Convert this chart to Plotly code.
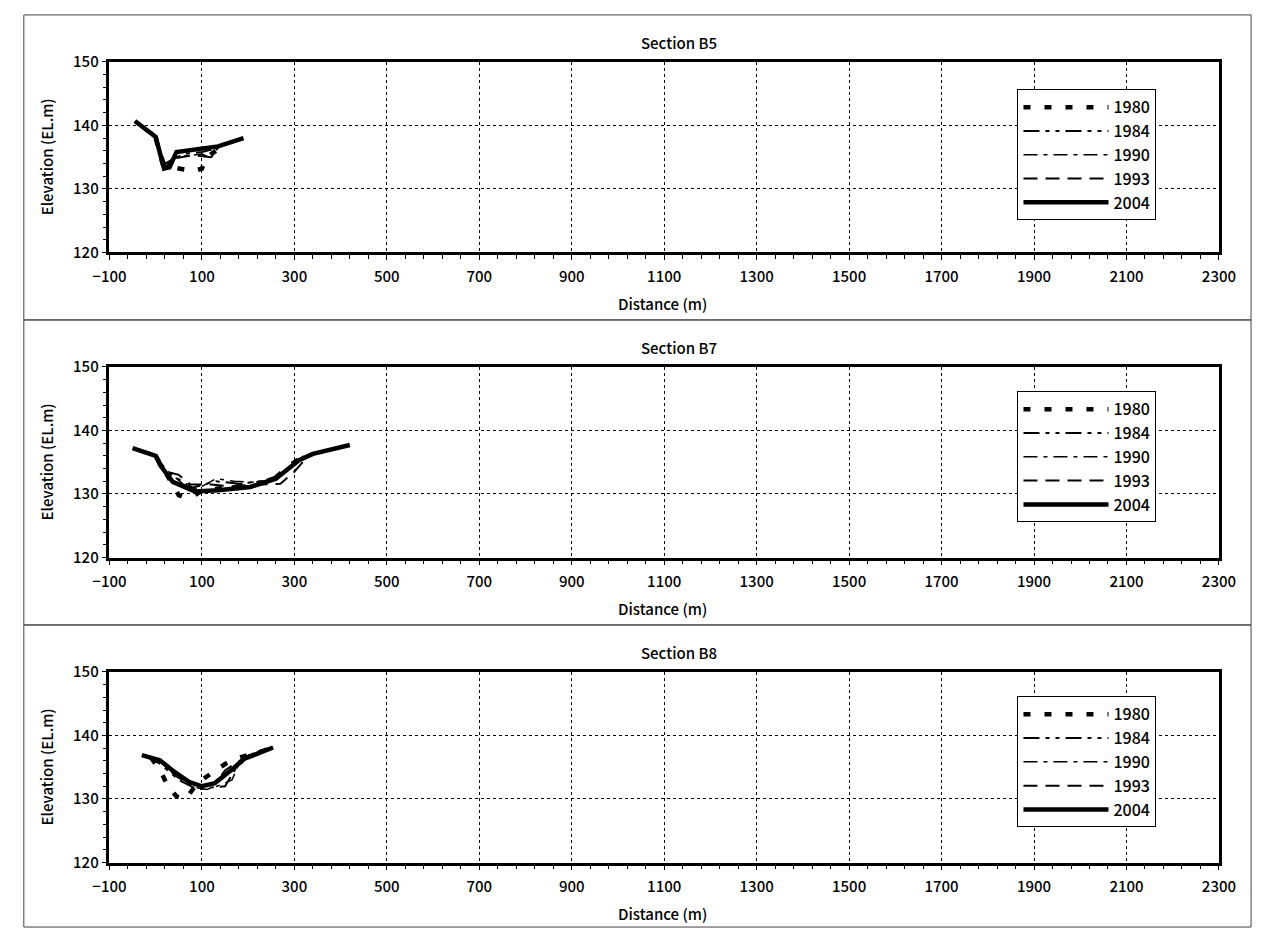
import plotly.graph_objects as go

# ---------------- data ----------------
years = ["1980", "1984", "1990", "1993", "2004"]
sections = ["Section B5", "Section B7", "Section B8"]

# Section B5
b5_1980_x = [0, 15, 30, 60, 80, 100, 110, 130]
b5_1980_y = [138.0, 134.0, 133.5, 133.0, 132.8, 133.2, 135.0, 136.0]
b5_1984_x = [-40, 0, 20, 35, 60, 100, 130]
b5_1984_y = [140.3, 138.0, 134.0, 134.5, 135.5, 135.8, 136.4]
b5_1990_x = [0, 20, 40, 70, 100, 120, 130]
b5_1990_y = [138.0, 133.8, 135.0, 135.2, 135.5, 134.8, 136.2]
b5_1993_x = [0, 22, 40, 80, 120, 135]
b5_1993_y = [138.0, 133.5, 134.8, 135.3, 135.0, 136.5]
b5_2004_x = [-45, 0, 18, 30, 45, 135, 190]
b5_2004_y = [140.7, 138.2, 133.2, 133.4, 135.8, 136.7, 138.0]

# Section B7
b7_1980_x = [0, 20, 50, 60, 80, 100, 150, 200, 250, 290, 320]
b7_1980_y = [136.0, 133.5, 129.8, 129.5, 129.6, 130.5, 131.0, 131.5, 132.0, 134.5, 136.0]
b7_1984_x = [0, 15, 45, 80, 130, 180, 230, 270, 310]
b7_1984_y = [136.0, 134.0, 132.5, 131.0, 132.0, 131.6, 132.0, 133.0, 135.5]
b7_1990_x = [0, 20, 60, 90, 130, 170, 220, 260, 300, 320]
b7_1990_y = [136.0, 134.0, 131.5, 130.8, 132.4, 132.0, 131.8, 132.5, 134.8, 136.0]
b7_1993_x = [0, 25, 50, 75, 120, 160, 200, 240, 270, 300, 330]
b7_1993_y = [136.0, 133.5, 133.0, 131.5, 131.5, 131.2, 131.4, 131.5, 131.6, 133.5, 136.0]
b7_2004_x = [-50, 0, 10, 37, 85, 135, 205, 260, 310, 340, 420]
b7_2004_y = [137.2, 136.0, 134.5, 131.9, 130.4, 130.6, 131.1, 132.4, 135.3, 136.3, 137.7]

# Section B8
b8_1980_x = [-10, 10, 25, 45, 65, 90, 120, 150, 180, 220]
b8_1980_y = [136.5, 134.5, 132.2, 130.4, 130.0, 132.5, 134.0, 135.5, 136.5, 137.3]
b8_1984_x = [-20, 10, 50, 90, 120, 150, 175, 200, 240]
b8_1984_y = [136.8, 135.5, 133.0, 131.5, 131.8, 132.0, 135.0, 136.5, 138.0]
b8_1990_x = [-20, 10, 45, 85, 110, 140, 165, 180, 190, 230]
b8_1990_y = [136.8, 135.8, 133.5, 131.8, 131.5, 132.2, 133.0, 135.5, 136.5, 137.8]
b8_1993_x = [-20, 15, 50, 90, 130, 150, 170, 200, 240]
b8_1993_y = [136.8, 135.5, 133.5, 132.0, 132.5, 134.5, 135.5, 136.8, 138.0]
b8_2004_x = [-30, 9, 40, 72, 100, 128, 163, 191, 254]
b8_2004_y = [136.9, 136.1, 134.3, 132.7, 132.0, 132.5, 134.5, 136.3, 138.1]

panel_data = [
    [(b5_1980_x, b5_1980_y), (b5_1984_x, b5_1984_y), (b5_1990_x, b5_1990_y),
     (b5_1993_x, b5_1993_y), (b5_2004_x, b5_2004_y)],
    [(b7_1980_x, b7_1980_y), (b7_1984_x, b7_1984_y), (b7_1990_x, b7_1990_y),
     (b7_1993_x, b7_1993_y), (b7_2004_x, b7_2004_y)],
    [(b8_1980_x, b8_1980_y), (b8_1984_x, b8_1984_y), (b8_1990_x, b8_1990_y),
     (b8_1993_x, b8_1993_y), (b8_2004_x, b8_2004_y)],
]

# ---------------- styles ----------------
W, H = 1270, 938
FONT = "Noto Sans CJK JP"
FW = 500
styles = {
    "1980": dict(width=4.5, dash="7px,14px"),
    "1984": dict(width=2, dash="16px,6px,4px,6px,4px,6px"),
    "1990": dict(width=1.5, dash="14px,6px,4px,6px"),
    "1993": dict(width=2, dash="14px,8px"),
    "2004": dict(width=4.5, dash="solid"),
}


def px_x(p):
    return p / W


def px_y(p):
    return 1 - p / H


plot_left, plot_right = 95, 1235
panel_tops = [51, 363, 675]
plot_h = 195
panel_frames = [(3, 315), (315, 627), (627, 936)]
legend_tops = [79, 388, 700]

fig = go.Figure()
layout = dict(
    width=W, height=H, margin=dict(l=0, r=0, t=0, b=0),
    paper_bgcolor="white", plot_bgcolor="white",
    font=dict(family=FONT, size=14, color="black", weight=FW),
    shapes=[], annotations=[],
)

for i in range(3):
    xa = "x" if i == 0 else f"x{i+1}"
    ya = "y" if i == 0 else f"y{i+1}"
    lg = "legend" if i == 0 else f"legend{i+1}"
    for yr, (xs, ys) in zip(years, panel_data[i]):
        st = styles[yr]
        fig.add_trace(go.Scatter(
            x=xs, y=ys, mode="lines", name=yr,
            line=dict(color="black", width=st["width"], dash=st["dash"]),
            xaxis=xa, yaxis=ya, legend=lg, showlegend=True,
        ))
    top = panel_tops[i]
    bot = top + plot_h
    axkey = "xaxis" if i == 0 else f"xaxis{i+1}"
    aykey = "yaxis" if i == 0 else f"yaxis{i+1}"
    layout[axkey] = dict(
        domain=[px_x(plot_left), px_x(plot_right)], anchor=ya,
        range=[-100, 2300], tick0=-100, dtick=200,
        showgrid=True, gridcolor="black", griddash="dot", gridwidth=1,
        showline=True, linecolor="black", linewidth=2.5, mirror=True,
        ticks="outside", ticklen=5, tickcolor="black",
        minor=dict(dtick=40, tick0=-100, ticks="outside", ticklen=4, tickcolor="black", showgrid=False),
        tickfont=dict(family=FONT, size=15, weight=FW), zeroline=False,
        ticklabelstandoff=4,
    )
    layout[aykey] = dict(
        domain=[px_y(bot), px_y(top)], anchor=xa,
        range=[120, 150], dtick=10,
        showgrid=True, gridcolor="black", griddash="dot", gridwidth=1,
        showline=True, linecolor="black", linewidth=2.5, mirror=True,
        ticks="outside", ticklen=5, tickcolor="black",
        minor=dict(dtick=2, ticks="outside", ticklen=4, tickcolor="black", showgrid=False),
        tickfont=dict(family=FONT, size=15, weight=FW), zeroline=False,
    )
    layout[lg] = dict(
        x=px_x(1028), y=px_y(legend_tops[i]), xanchor="left", yanchor="top",
        bgcolor="white", bordercolor="black", borderwidth=1,
        font=dict(family=FONT, size=16, weight=FW), itemwidth=85,
        tracegroupgap=0,
    )
    # panel frame
    ft, fb = panel_frames[i]
    layout["shapes"].append(dict(
        type="rect", xref="paper", yref="paper",
        x0=px_x(7), x1=px_x(1268), y0=px_y(fb), y1=px_y(ft),
        line=dict(color="#444", width=1),
    ))
    # title
    layout["annotations"].append(dict(
        text=sections[i], xref="paper", yref="paper",
        x=px_x(680), y=px_y(top - 20), xanchor="center", yanchor="middle",
        showarrow=False, font=dict(family=FONT, size=15, weight=FW),
    ))
    layout["annotations"].append(dict(
        text="Distance (m)", xref="paper", yref="paper",
        x=px_x(663), y=px_y(bot + 52), xanchor="center", yanchor="middle",
        showarrow=False, font=dict(family=FONT, size=15, weight=FW),
    ))
    layout["annotations"].append(dict(
        text="Elevation (EL.m)", xref="paper", yref="paper",
        x=px_x(30), y=px_y(top + plot_h / 2), xanchor="center", yanchor="middle",
        textangle=-90, showarrow=False, font=dict(family=FONT, size=15, weight=FW),
    ))

fig.update_layout(**layout)
fig.write_html("out.html")
